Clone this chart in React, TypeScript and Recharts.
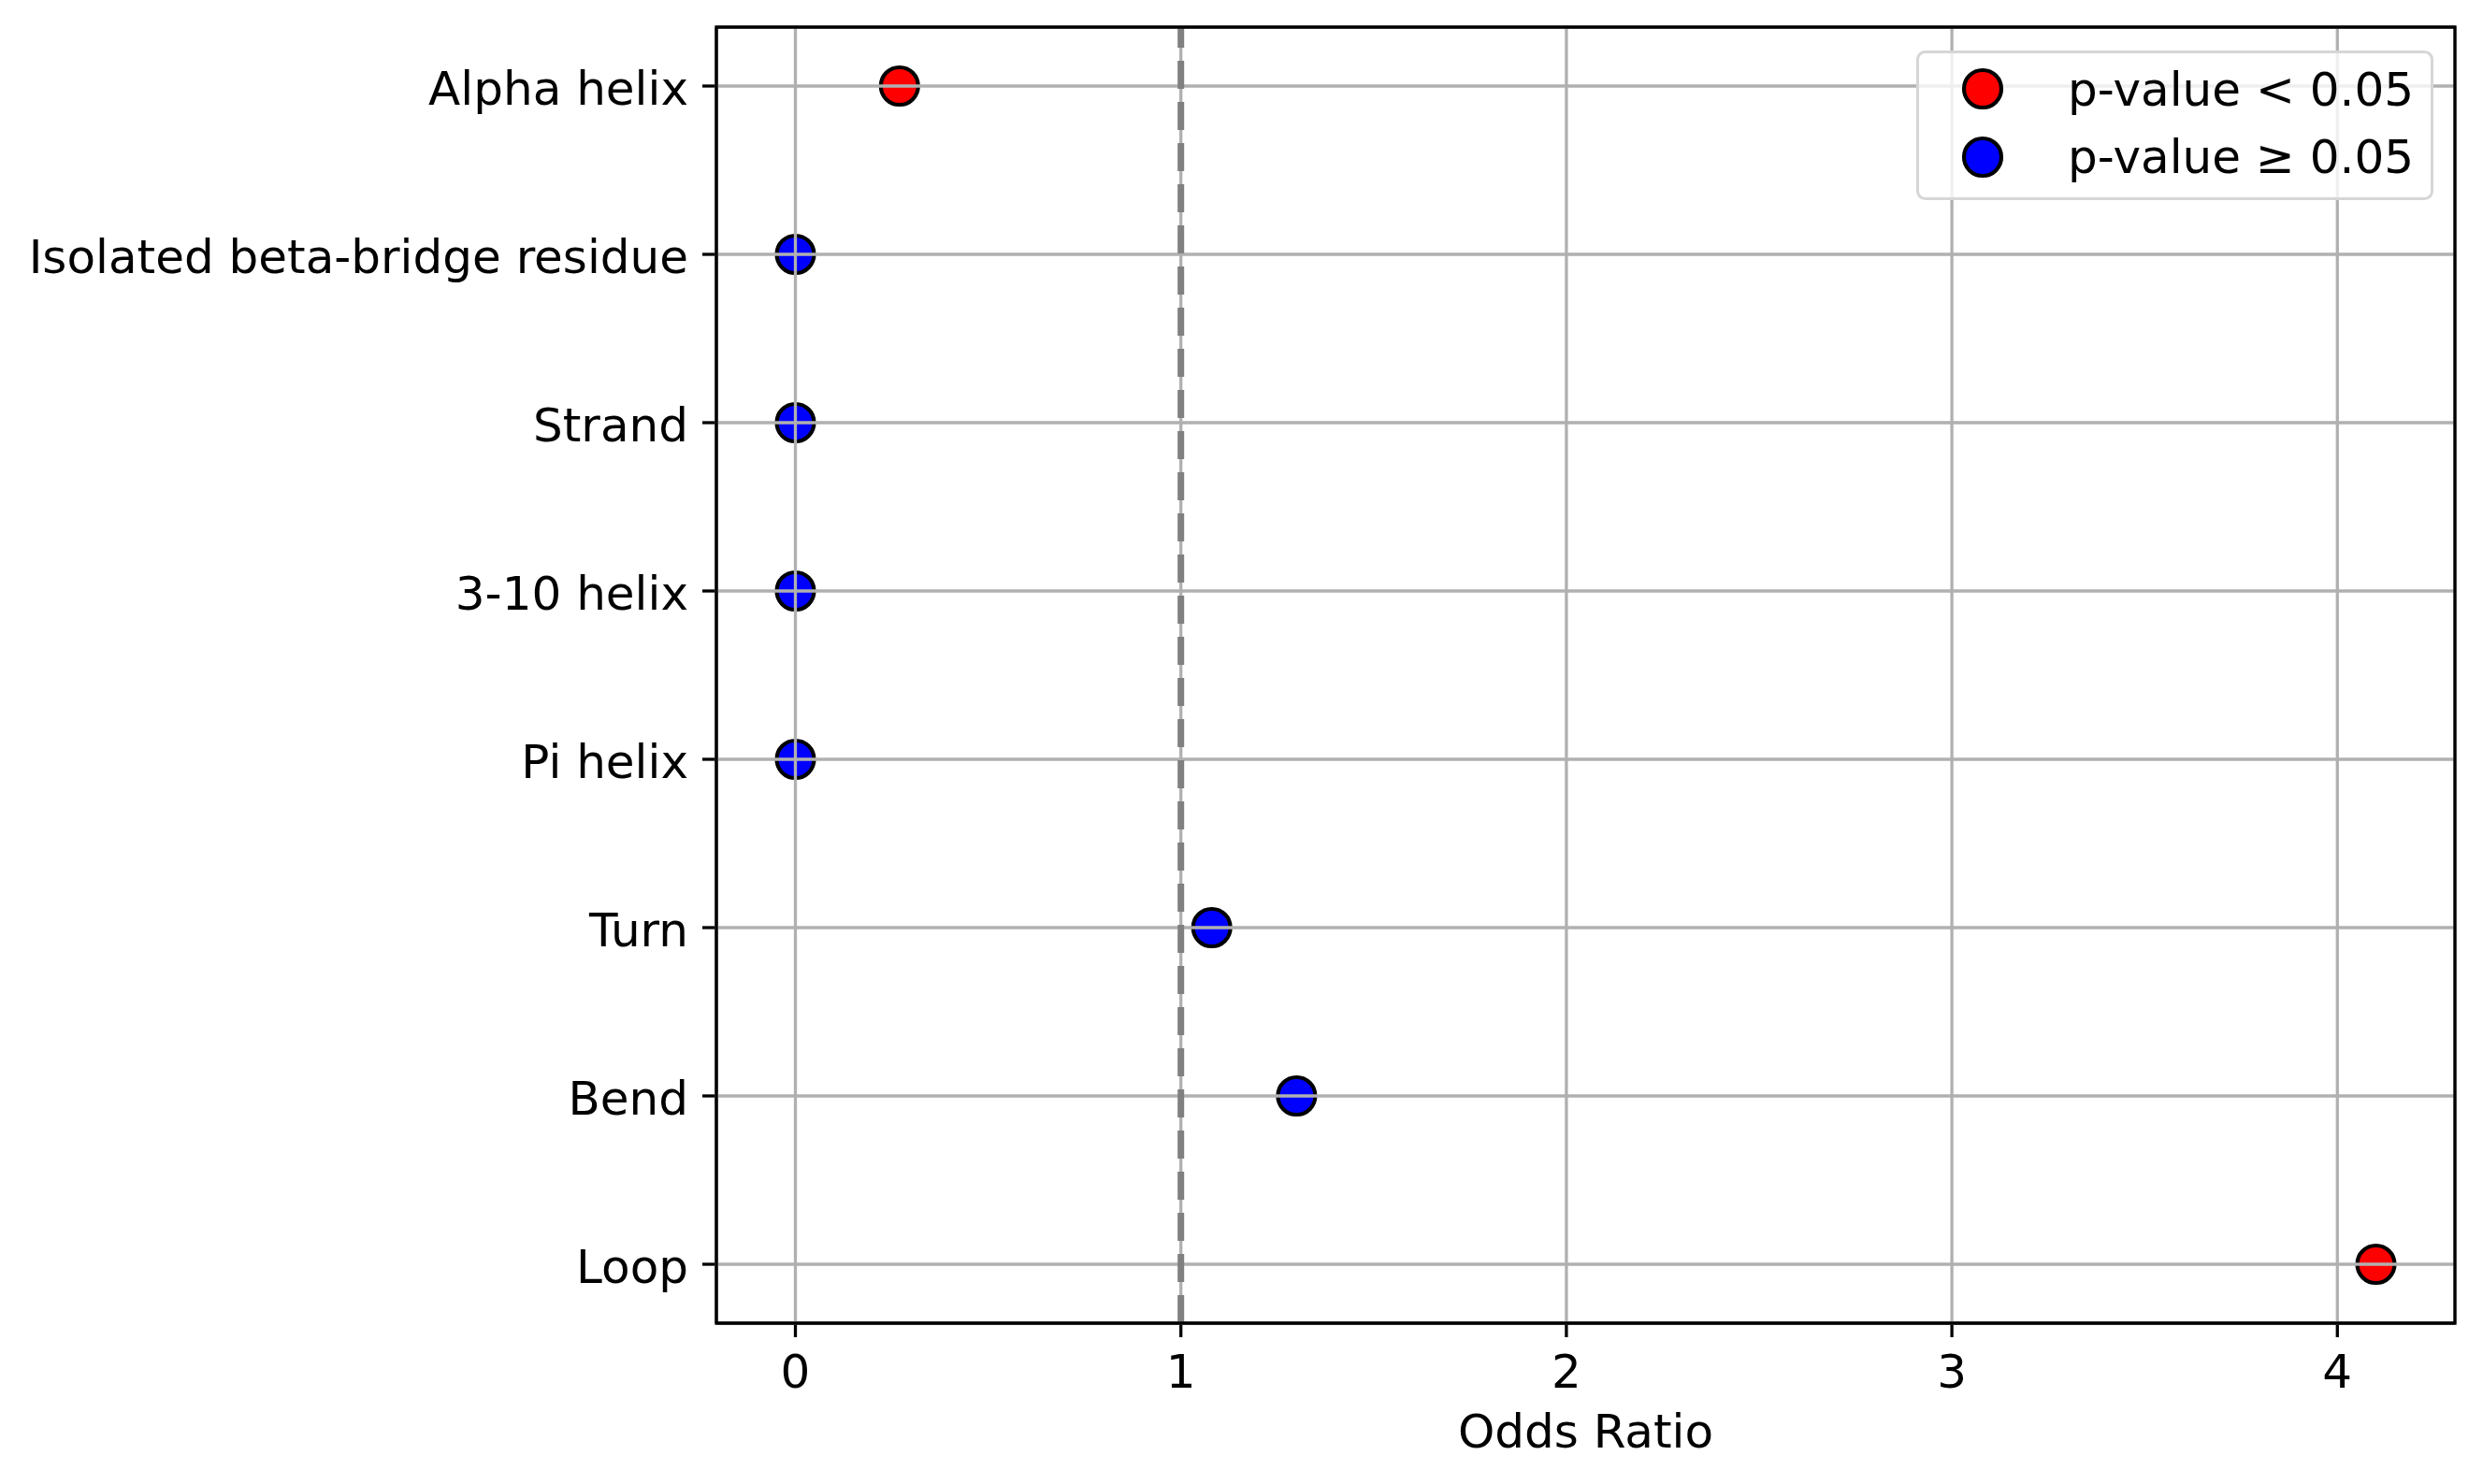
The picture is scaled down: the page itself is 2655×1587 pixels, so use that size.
import React from "react";
import {
  ScatterChart,
  Scatter,
  XAxis,
  YAxis,
  CartesianGrid,
  ReferenceLine,
  ReferenceArea,
  Legend,
  Label,
} from "recharts";

const categories = [
  "Alpha helix",
  "Isolated beta-bridge residue",
  "Strand",
  "3-10 helix",
  "Pi helix",
  "Turn",
  "Bend",
  "Loop",
];
const oddsRatios = [0.27, 0, 0, 0, 0, 1.08, 1.3, 4.1];
const significant = [true, false, false, false, false, false, false, true];
const xTicks = [0, 1, 2, 3, 4];
const legendLabels = ["p-value < 0.05", "p-value \u2265 0.05"];
const legendColors = ["#ff0000", "#0000ff"];

const xDomain: [number, number] = [-0.205, 4.305];
const yDomain: [number, number] = [-0.35, 7.35];
const font = "DejaVu Sans";
const lw = 3.3;

const n = categories.length;
const rows = categories.map((name, i) => ({
  name,
  x: oddsRatios[i],
  y: n - 1 - i,
  sig: significant[i],
}));
const sigRows = rows.filter((r) => r.sig);
const otherRows = rows.filter((r) => !r.sig);
const yTicks = rows.map((r) => r.y).reverse();

const makeDot = (fill: string) => (props: any) =>
  <circle cx={props.cx} cy={props.cy} r={20} fill={fill} stroke="#000" strokeWidth={4.2} />;

const renderLegend = () => (
  <svg width={553} height={160} style={{ display: "block" }}>
    <rect x={1.5} y={1.5} width={550} height={157} rx={8} fill="rgba(255,255,255,0.8)" stroke="#d6d6d6" strokeWidth={3} />
    {legendLabels.map((label, i) => (
      <g key={label}>
        <circle cx={71} cy={41 + 73 * i} r={20} fill={legendColors[i]} stroke="#000" strokeWidth={4.2} />
        <text x={162} y={59 + 72 * i} fontSize={50} fontFamily={font} fill="#000">
          {label}
        </text>
      </g>
    ))}
  </svg>
);

export default function App() {
  return (
    <div style={{ position: "absolute", left: 0, top: 0, width: 2655, height: 1587, background: "#fff" }}>
      <ScatterChart width={2655} height={1587} margin={{ top: 29, right: 30, bottom: 0, left: 0 }}>
        <XAxis
          type="number"
          dataKey="x"
          domain={xDomain}
          ticks={xTicks}
          height={172}
          tickSize={15}
          tickMargin={18}
          axisLine={{ stroke: "#000", strokeWidth: lw }}
          tickLine={{ stroke: "#000", strokeWidth: lw }}
          tick={{ fontSize: 50, fill: "#000", fontFamily: font }}
        >
          <Label value="Odds Ratio" position="insideBottom" offset={39} style={{ fontSize: 50, fill: "#000", fontFamily: font }} />
        </XAxis>
        <YAxis
          type="number"
          dataKey="y"
          domain={yDomain}
          ticks={yTicks}
          width={766}
          tickSize={15}
          tickMargin={15}
          tickFormatter={(v: number) => categories[n - 1 - v]}
          axisLine={{ stroke: "#000", strokeWidth: lw }}
          tickLine={{ stroke: "#000", strokeWidth: lw }}
          tick={{ fontSize: 50, fill: "#000", fontFamily: font, dy: 2 }}
        />
        <Scatter name={legendLabels[0]} data={sigRows} fill={legendColors[0]} shape={makeDot(legendColors[0])} isAnimationActive={false} />
        <Scatter name={legendLabels[1]} data={otherRows} fill={legendColors[1]} shape={makeDot(legendColors[1])} isAnimationActive={false} />
        <CartesianGrid stroke="#b0b0b0" strokeWidth={lw} zIndex={650} />
        <ReferenceLine x={1} stroke="#808080" strokeWidth={7} strokeDasharray="30 14" zIndex={660} />
        <ReferenceArea
          x1={xDomain[0]}
          x2={xDomain[1]}
          y1={yDomain[0]}
          y2={yDomain[1]}
          fill="none"
          fillOpacity={0}
          stroke="#000"
          strokeWidth={lw}
          zIndex={700}
        />
        <Legend
          layout="vertical"
          align="center"
          verticalAlign="middle"
          wrapperStyle={{ left: 2049, top: 54, width: 553, height: 160 }}
          content={renderLegend}
        />
      </ScatterChart>
    </div>
  );
}
